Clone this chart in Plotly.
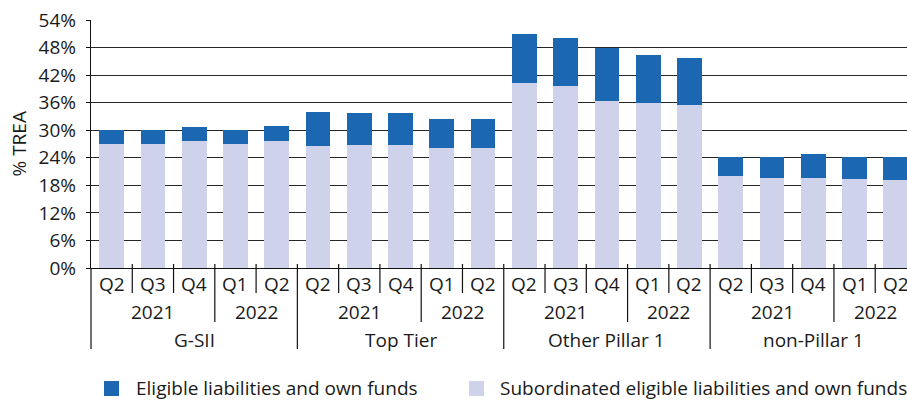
import plotly.graph_objects as go

# ---- data ----
quarters = ["Q2", "Q3", "Q4", "Q1", "Q2"] * 4
years = ["2021", "2022"]
groups = ["G-SII", "Top Tier", "Other Pillar 1", "non-Pillar 1"]
eligible_total = [30.1, 30.1, 30.6, 30.1, 30.9,
                  33.9, 33.7, 33.7, 32.4, 32.4,
                  50.9, 50.0, 47.8, 46.3, 45.7,
                  24.1, 24.1, 24.8, 24.1, 24.1]
subordinated = [26.9, 26.9, 27.6, 26.9, 27.6,
                26.5, 26.7, 26.7, 26.1, 26.1,
                40.2, 39.6, 36.3, 35.9, 35.6,
                20.0, 19.7, 19.7, 19.3, 19.1]
y_ticks = [0, 6, 12, 18, 24, 30, 36, 42, 48, 54]
series_names = ["Eligible liabilities and own funds",
                "Subordinated eligible liabilities and own funds"]

DARK = "#1b67b1"
LIGHT = "#ced3eb"
TXT = "#1a1a1a"
FONT = "Open Sans"
FS = 19

W, H = 907, 401
ML, MT, MB = 91, 20, 133
PW = W - ML
PH = H - MT - MB

x = list(range(len(quarters)))
top_part = [round(t - s, 2) for t, s in zip(eligible_total, subordinated)]

fig = go.Figure()
fig.add_trace(go.Bar(x=x, y=subordinated, name=series_names[1], marker=dict(color=LIGHT, line=dict(width=0)), width=0.6, showlegend=False))
fig.add_trace(go.Bar(x=x, y=top_part, name=series_names[0], marker=dict(color=DARK, line=dict(width=0)), width=0.6, showlegend=False))


def px_x(p):
    return (p - ML) / PW


def px_y(p):
    return (MT + PH - p) / PH


annotations = []
shapes = []

# quarter labels
for i, q in enumerate(quarters):
    annotations.append(dict(x=i, y=px_y(284), xref="x", yref="paper", text=q, showarrow=False,
                            yanchor="middle", xanchor="center", font=dict(size=FS, color=TXT, family=FONT)))
# year and group labels
for g, name in enumerate(groups):
    base = g * 5
    annotations.append(dict(x=base + 1, y=px_y(312), xref="x", yref="paper", text=years[0], showarrow=False,
                            yanchor="middle", font=dict(size=FS, color=TXT, family=FONT)))
    annotations.append(dict(x=base + 3.5, y=px_y(312), xref="x", yref="paper", text=years[1], showarrow=False,
                            yanchor="middle", font=dict(size=FS, color=TXT, family=FONT)))
    annotations.append(dict(x=base + 2, y=px_y(340), xref="x", yref="paper", text=name, showarrow=False,
                            yanchor="middle", font=dict(size=FS, color=TXT, family=FONT)))

# dividers
top_y = px_y(264)
for b in range(1, len(quarters)):
    xb = b - 0.5
    if b % 5 == 0:
        yb = px_y(349)
    elif b % 5 == 3:
        yb = px_y(322)
    else:
        yb = px_y(293)
    shapes.append(dict(type="line", xref="x", yref="paper", x0=xb, x1=xb, y0=top_y, y1=yb,
                       line=dict(color="#111111", width=1.2)))
shapes.append(dict(type="line", xref="paper", yref="paper", x0=0, x1=0, y0=0, y1=px_y(349),
                   line=dict(color="#111111", width=1.2)))

# y-axis title
annotations.append(dict(x=px_x(18.5), y=0.5, xref="paper", yref="paper", text="% TREA", textangle=-90,
                        showarrow=False, xanchor="center", yanchor="middle", font=dict(size=FS, color=TXT, family=FONT)))

# legend (manual)
leg = [(104, 134, DARK, series_names[0]), (469, 498, LIGHT, series_names[1])]
for sx, tx, col, name in leg:
    shapes.append(dict(type="rect", xref="paper", yref="paper", x0=px_x(sx), x1=px_x(sx + 15),
                       y0=px_y(396), y1=px_y(381), fillcolor=col, line=dict(width=0)))
    annotations.append(dict(x=px_x(tx), y=px_y(388), xref="paper", yref="paper", text=name, showarrow=False,
                            xanchor="left", yanchor="middle", font=dict(size=FS, color=TXT, family=FONT)))

fig.update_layout(
    width=W, height=H, autosize=False,
    margin=dict(l=ML, r=0, t=MT, b=MB, pad=0),
    barmode="stack",
    plot_bgcolor="white", paper_bgcolor="white",
    font=dict(family=FONT, size=FS, color=TXT),
    showlegend=False,
    annotations=annotations,
    shapes=shapes,
    xaxis=dict(range=[-0.5, 19.27], showticklabels=False, showgrid=False, zeroline=False,
               showline=True, linecolor="#111111", linewidth=1.3, ticks=""),
    yaxis=dict(range=[0, 54], tickvals=y_ticks, ticktext=[f"{v}%" for v in y_ticks],
               showgrid=True, gridcolor="#262626", gridwidth=1.4, zeroline=False,
               showline=True, linecolor="#111111", linewidth=1.3,
               ticks="outside", ticklen=4, tickcolor="#111111", tickwidth=1.3,
               ticklabelstandoff=6,
               tickfont=dict(size=FS, color=TXT, family=FONT)),
)

fig.write_html("out.html", config={"displayModeBar": False},
               post_script="document.body.style.margin='0';document.body.style.padding='0';document.body.style.overflow='hidden';")
